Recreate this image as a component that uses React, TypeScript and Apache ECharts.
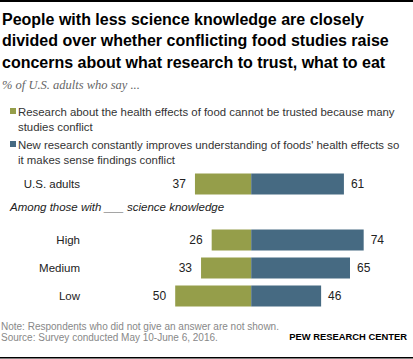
import React, { useEffect, useRef } from "react";
import * as echarts from "echarts";

const categories = ["U.S. adults", "", "High", "Medium", "Low"];
const cannotTrust = [37, null, 26, 33, 50];
const improves = [61, null, 74, 65, 46];

const titleLines = [
  "People with less science knowledge are closely",
  "divided over whether conflicting food studies raise",
  "concerns about what research to trust, what to eat",
];
const subtitle = "% of U.S. adults who say ...";
const legendItems = [
  "Research about the health effects of food cannot be trusted because many\nstudies conflict",
  "New research constantly improves understanding of foods' health effects so\nit makes sense findings conflict",
];
const groupLabel = "Among those with ___ science knowledge";
const note = "Note: Respondents who did not give an answer are not shown.";
const source = "Source: Survey conducted May 10-June 6, 2016.";
const brand = "PEW RESEARCH CENTER";

const GREEN = "#959E4A";
const BLUE = "#466A82";
const SANS = "'Liberation Sans', Arial, sans-serif";

export default function App() {
  const ref = useRef<HTMLDivElement>(null);
  useEffect(() => {
    if (!ref.current) return;
    const chart = echarts.init(ref.current, null, { renderer: "svg" });
    chart.setOption({
      animation: false,
      backgroundColor: "#ffffff",
      textStyle: { fontFamily: SANS },
      grid: { left: 160, right: 40.2, top: 170, bottom: 49, containLabel: false },
      xAxis: {
        type: "value",
        min: -60,
        max: 80,
        show: false,
      },
      yAxis: {
        type: "category",
        inverse: true,
        data: categories,
        axisLine: { show: false },
        axisTick: { show: false },
        axisLabel: {
          margin: 80,
          align: "right",
          fontSize: 11.5,
          color: "#222",
          fontFamily: SANS,
        },
      },
      series: [
        {
          name: legendItems[0],
          type: "bar",
          stack: "s",
          barWidth: 21,
          data: cannotTrust.map((v) => (v == null ? null : -v)),
          itemStyle: { color: GREEN },
          label: {
            show: true,
            position: "left",
            distance: 9,
            fontSize: 12,
            color: "#222",
            fontFamily: SANS,
            formatter: (p: any) => String(Math.abs(p.value)),
          },
        },
        {
          name: legendItems[1],
          type: "bar",
          stack: "s",
          barWidth: 21,
          data: improves,
          itemStyle: { color: BLUE },
          label: {
            show: true,
            position: "right",
            distance: 7,
            fontSize: 12,
            color: "#222",
            fontFamily: SANS,
          },
        },
      ],
      graphic: [
        { type: "rect", shape: { x: 0, y: 0, width: 413, height: 2 }, style: { fill: "#000" } },
        { type: "rect", shape: { x: 0, y: 357, width: 413, height: 1.5 }, style: { fill: "#000" } },
        ...titleLines.map((t, i) => ({
          type: "text",
          left: 2,
          top: 11 + i * 21.5,
          style: { text: t, font: `bold 16px ${SANS}`, fill: "#000" },
        })),
        {
          type: "text",
          left: 2,
          top: 78,
          style: {
            text: subtitle,
            font: "italic 12.5px 'Liberation Serif', 'DejaVu Serif', serif",
            fill: "#666",
          },
        },
        { type: "rect", shape: { x: 10, y: 108, width: 6, height: 6 }, style: { fill: GREEN } },
        {
          type: "text",
          left: 18,
          top: 105,
          style: { text: legendItems[0], font: `11.4px ${SANS}`, fill: "#333", lineHeight: 14.5 },
        },
        { type: "rect", shape: { x: 10, y: 141, width: 6, height: 6 }, style: { fill: BLUE } },
        {
          type: "text",
          left: 18,
          top: 138,
          style: { text: legendItems[1], font: `11.4px ${SANS}`, fill: "#333", lineHeight: 14.5 },
        },
        {
          type: "text",
          left: 10,
          top: 201,
          style: { text: groupLabel, font: `italic 11.5px ${SANS}`, fill: "#222" },
        },
        {
          type: "text",
          left: 1,
          top: 321,
          style: { text: note, font: `10px ${SANS}`, fill: "#888" },
        },
        {
          type: "text",
          left: 1,
          top: 332,
          style: { text: source, font: `10px ${SANS}`, fill: "#888" },
        },
        {
          type: "text",
          right: 6,
          top: 332,
          style: { text: brand, font: `bold 9.4px ${SANS}`, fill: "#000" },
        },
      ],
    });
    return () => chart.dispose();
  }, []);
  return (
    <div
      ref={ref}
      style={{ position: "absolute", left: 0, top: 0, width: 413, height: 359 }}
    />
  );
}
